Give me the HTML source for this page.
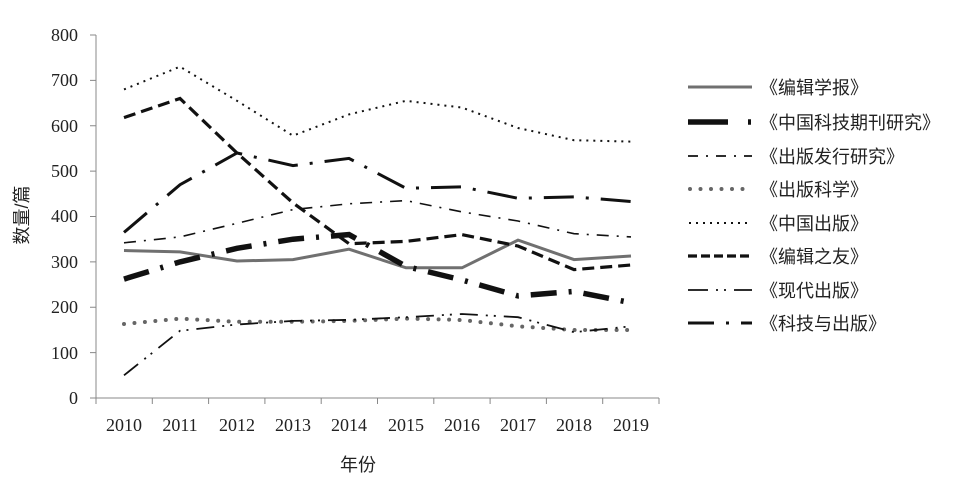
<!DOCTYPE html>
<html><head><meta charset="utf-8"><style>
html,body{margin:0;padding:0;background:#fff;width:971px;height:481px;overflow:hidden}
svg text{font-family:"Liberation Serif","Noto Serif CJK SC",serif;font-size:18px;fill:#222}
.cj{font-family:"Liberation Sans","Noto Sans CJK SC",sans-serif;font-size:18px}
</style></head><body>
<svg width="971" height="481" viewBox="0 0 971 481" xmlns="http://www.w3.org/2000/svg">
<g stroke="#888" stroke-width="1" fill="none">
<line x1="96" y1="35" x2="96" y2="398"/>
<line x1="96" y1="398" x2="659" y2="398"/>
<path d="M90 35H96M90 80.4H96M90 125.8H96M90 171.1H96M90 216.5H96M90 261.9H96M90 307.3H96M90 352.6H96M90 398H96"/>
<path d="M96 398V404M152.3 398V404M208.6 398V404M264.9 398V404M321.2 398V404M377.5 398V404M433.8 398V404M490.1 398V404M546.4 398V404M602.7 398V404M659 398V404"/>
</g>
<g text-anchor="end">
<text x="78" y="41">800</text><text x="78" y="86">700</text><text x="78" y="132">600</text><text x="78" y="177">500</text><text x="78" y="222">400</text><text x="78" y="268">300</text><text x="78" y="313">200</text><text x="78" y="359">100</text><text x="78" y="404">0</text>
</g>
<g text-anchor="middle">
<text x="124" y="431">2010</text><text x="180" y="431">2011</text><text x="237" y="431">2012</text><text x="293" y="431">2013</text><text x="349" y="431">2014</text><text x="406" y="431">2015</text><text x="462" y="431">2016</text><text x="518" y="431">2017</text><text x="574" y="431">2018</text><text x="631" y="431">2019</text>
<text class="cj" x="358" y="471">年份</text>
<text class="cj" transform="translate(28,215) rotate(-90)">数量/篇</text>
</g>
<g fill="none" stroke-linecap="butt">
<!-- 编辑学报 -->
<polyline stroke="#707070" stroke-width="3" points="124,250.5 180,251.9 237,261 293,259.6 349,249.2 406,267.8 462,267.8 518,240.1 574,259.6 631,256"/>
<!-- 中国科技期刊研究 -->
<polyline stroke="#111" stroke-width="5.5" stroke-dasharray="26,12,3,12" points="124,279.1 180,261.9 237,248.3 293,239.2 349,234.6 406,266.4 462,280 518,295.9 574,291.4 631,302.7"/>
<!-- 出版发行研究 -->
<polyline stroke="#111" stroke-width="1.6" stroke-dasharray="12,8,2,8" points="124,242.8 180,236.9 237,223.3 293,209.6 349,203.8 406,200.6 462,211.9 518,221 574,233.7 631,236.9"/>
<!-- 出版科学 -->
<polyline stroke="#666" stroke-width="4" stroke-linecap="round" stroke-dasharray="0,10.5" points="124,324 180,318.6 237,321.8 293,321.8 349,320.9 406,318.6 462,320 518,326.3 574,330 631,330"/>
<!-- 中国出版 -->
<polyline stroke="#111" stroke-width="2" stroke-dasharray="2,5" points="124,89.4 180,66.7 237,100.8 293,135.7 349,114.4 406,100.8 462,107.6 518,128 574,140.2 631,141.6"/>
<!-- 编辑之友 -->
<polyline stroke="#111" stroke-width="3.2" stroke-dasharray="12,6" points="124,117.6 180,98.5 237,153 293,202.9 349,243.7 406,241.4 462,234.6 518,246 574,269.6 631,265"/>
<!-- 现代出版 -->
<polyline stroke="#111" stroke-width="1.8" stroke-dasharray="18,8,2,6,2,8" points="124,375.3 180,330.8 237,324.5 293,320.9 349,319.9 406,317.2 462,314 518,317.2 574,332.2 631,326.3"/>
<!-- 科技与出版 -->
<polyline stroke="#111" stroke-width="3" stroke-dasharray="30,12,3,12" points="124,232.4 180,184.7 237,153 293,165.6 349,158.4 406,188.3 462,186.9 518,198.3 574,196.9 631,201.5"/>
</g>
<g fill="none">
<line x1="688" y1="87" x2="752" y2="87" stroke="#707070" stroke-width="3"/>
<line x1="688" y1="122" x2="752" y2="122" stroke="#111" stroke-width="5.5" stroke-dasharray="40,20,3,20"/>
<line x1="688" y1="156" x2="752" y2="156" stroke="#111" stroke-width="1.8" stroke-dasharray="10,8,2,8"/>
<line x1="690" y1="189" x2="752" y2="189" stroke="#666" stroke-width="4" stroke-linecap="round" stroke-dasharray="0,10.5"/>
<line x1="689" y1="223" x2="752" y2="223" stroke="#111" stroke-width="2" stroke-dasharray="2,5"/>
<line x1="688" y1="256" x2="752" y2="256" stroke="#111" stroke-width="3.2" stroke-dasharray="9,4"/>
<line x1="688" y1="290" x2="752" y2="290" stroke="#111" stroke-width="1.8" stroke-dasharray="20,8,2,6,2,8"/>
<line x1="688" y1="323" x2="752" y2="323" stroke="#111" stroke-width="3" stroke-dasharray="26,12,3,12"/>
</g>
<g class="cj">
<text class="cj" x="760" y="94">《编辑学报》</text>
<text class="cj" x="760" y="129">《中国科技期刊研究》</text>
<text class="cj" x="760" y="163">《出版发行研究》</text>
<text class="cj" x="760" y="196">《出版科学》</text>
<text class="cj" x="760" y="230">《中国出版》</text>
<text class="cj" x="760" y="263">《编辑之友》</text>
<text class="cj" x="760" y="297">《现代出版》</text>
<text class="cj" x="760" y="330">《科技与出版》</text>
</g>
</svg>
</body></html>
